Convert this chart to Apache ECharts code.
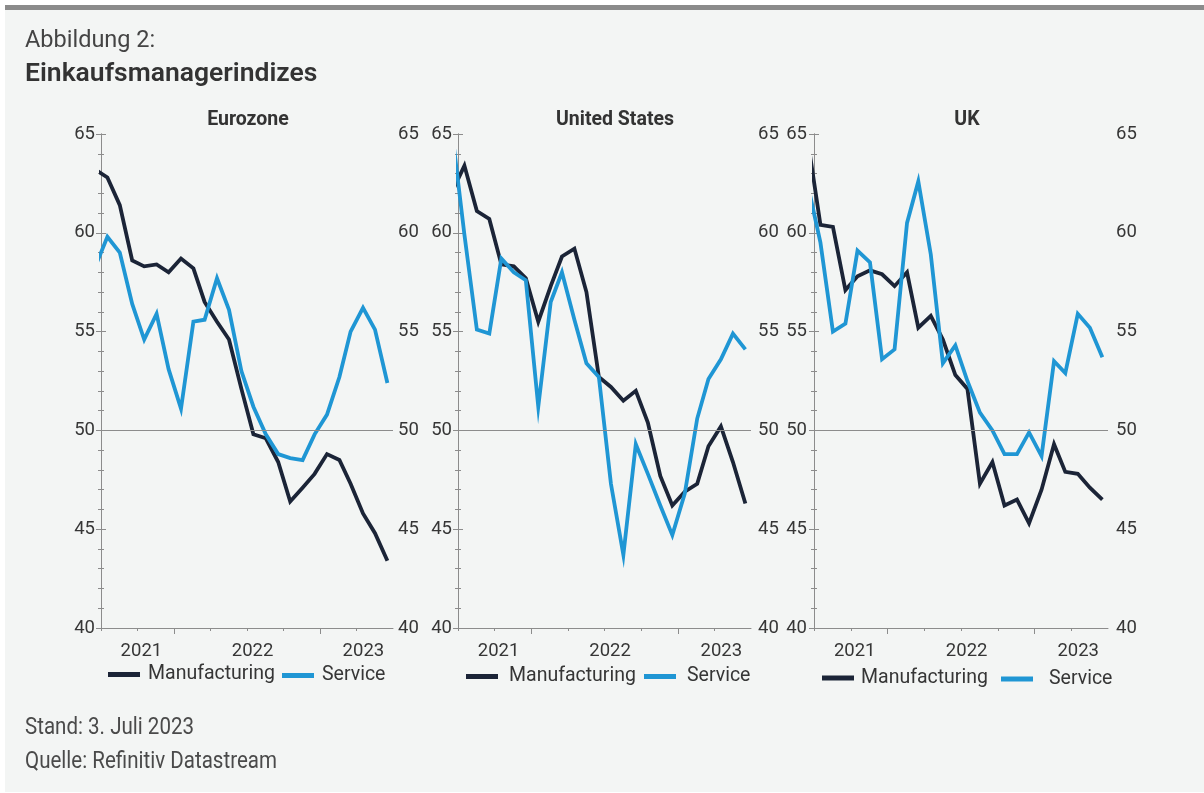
<!DOCTYPE html>
<html>
<head>
<meta charset="utf-8">
<title>Einkaufsmanagerindizes</title>
<script src="https://cdn.jsdelivr.net/npm/echarts@6/dist/echarts.min.js"></script>
<style>
  html, body { margin: 0; padding: 0; background: #ffffff; }
  #chart { width: 1204px; height: 793px; }
</style>
</head>
<body>
<div id="chart"></div>
<script>
// Monthly PMI readings, June 2021 – June 2023
const months = [
  '2021-06-01', '2021-07-01', '2021-08-01', '2021-09-01', '2021-10-01', '2021-11-01', '2021-12-01',
  '2022-01-01', '2022-02-01', '2022-03-01', '2022-04-01', '2022-05-01', '2022-06-01',
  '2022-07-01', '2022-08-01', '2022-09-01', '2022-10-01', '2022-11-01', '2022-12-01',
  '2023-01-01', '2023-02-01', '2023-03-01', '2023-04-01', '2023-05-01', '2023-06-01'
];

const euroManufacturing = [63.2, 62.8, 61.4, 58.6, 58.3, 58.4, 58.0, 58.7, 58.2, 56.5, 55.5, 54.6, 52.1,
  49.8, 49.6, 48.4, 46.4, 47.1, 47.8, 48.8, 48.5, 47.3, 45.8, 44.8, 43.4];
const euroService = [58.3, 59.8, 59.0, 56.4, 54.6, 55.9, 53.1, 51.1, 55.5, 55.6, 57.7, 56.1, 53.0,
  51.2, 49.8, 48.8, 48.6, 48.5, 49.8, 50.8, 52.7, 55.0, 56.2, 55.1, 52.4];

const usManufacturing = [62.1, 63.4, 61.1, 60.7, 58.4, 58.3, 57.7, 55.5, 57.3, 58.8, 59.2, 57.0, 52.7,
  52.2, 51.5, 52.0, 50.4, 47.7, 46.2, 46.9, 47.3, 49.2, 50.2, 48.4, 46.3];
const usService = [65.0, 59.9, 55.1, 54.9, 58.7, 58.0, 57.6, 51.2, 56.5, 58.0, 55.6, 53.4, 52.7,
  47.3, 43.7, 49.3, 47.8, 46.2, 44.7, 46.8, 50.6, 52.6, 53.6, 54.9, 54.1];

const ukManufacturing = [64.5, 60.4, 60.3, 57.1, 57.8, 58.1, 57.9, 57.3, 58.0, 55.2, 55.8, 54.6, 52.8,
  52.1, 47.3, 48.4, 46.2, 46.5, 45.3, 47.0, 49.3, 47.9, 47.8, 47.1, 46.5];
const ukService = [62.3, 59.5, 55.0, 55.4, 59.1, 58.5, 53.6, 54.1, 60.5, 62.6, 58.9, 53.4, 54.3,
  52.5, 50.9, 50.0, 48.8, 48.8, 49.9, 48.7, 53.5, 52.9, 55.9, 55.2, 53.7];

const panelTitles = ['Eurozone', 'United States', 'UK'];
const seriesNames = ['Manufacturing', 'Service'];

// Date axis window and year captions
const axisRange = ['2021-06-15', '2023-06-15'];
const yearLabelDates = ['2021-09-24', '2022-06-29', '2023-04-02'];
const yearLabels = ['2021', '2022', '2023'];

// Value axis
const yMin = 40, yMax = 65, yStep = 5, threshold = 50;

const headerLines = ['Abbildung 2:', 'Einkaufsmanagerindizes'];
const footerLines = ['Stand: 3. Juli 2023', 'Quelle: Refinitiv Datastream'];

// ---------------------------------------------------------------------------

const COLOR_MFG = '#1b2437';
const COLOR_SVC = '#1f96d4';
const AXIS_GRAY = '#8c8c8c';
const TEXT = '#363636';
const FONT = 'Roboto, "Noto Sans", sans-serif';

// dates are placed on a linear axis measured in days from the axis start
const DAY = 86400000;
const start = Date.UTC(...axisRange[0].split('-').map((n, i) => i === 1 ? n - 1 : +n));
function day(s) {
  const [y, m, d] = s.split('-').map(Number);
  return Math.round((Date.UTC(y, m - 1, d) - start) / DAY);
}

const x0 = day(axisRange[0]);
const x1 = day(axisRange[1]);
const quarter = (x1 - x0) / 8;
const shortTicks = [0, 1, 3, 4, 5, 7].map(k => x0 + k * quarter);
const longTicks = [2, 6].map(k => x0 + k * quarter);
const labelDays = yearLabelDates.map(day);

const panelData = [
  [euroManufacturing, euroService],
  [usManufacturing, usService],
  [ukManufacturing, ukService]
];

// Layout of the three small multiples
const layout = [
  { left: 101, width: 292, titleX: 248, lm: 6, rm: 5,
    legend: [{ x: 108, gap: 8, cy: 675.5 }, { x: 282, gap: 8, cy: 676.5 }] },
  { left: 458, width: 293, titleX: 615, lm: 6, rm: 7,
    legend: [{ x: 466, gap: 11, cy: 677.5 }, { x: 644, gap: 11, cy: 677.5 }] },
  { left: 814, width: 294, titleX: 967, lm: 7, rm: 8,
    legend: [{ x: 822, gap: 7, cy: 679 }, { x: 1001, gap: 16, cy: 680 }] }
];

const grids = [], xAxes = [], yAxes = [], series = [], legends = [];
const graphics = [
  { type: 'rect', shape: { x: 5, y: 10, width: 1199, height: 782 }, style: { fill: '#f3f5f4' }, z: -10, silent: true },
  { type: 'rect', shape: { x: 5, y: 5, width: 1199, height: 5 }, style: { fill: '#8b8b8b' }, z: -10, silent: true },
  { type: 'text', x: 25, y: 41.5, style: { text: headerLines[0], fill: '#444', font: 'normal 23.5px ' + FONT, textVerticalAlign: 'middle' } },
  { type: 'text', x: 25, y: 74, style: { text: headerLines[1], fill: '#333', font: '600 26.5px ' + FONT, textVerticalAlign: 'middle' } },
  { type: 'text', x: 25, y: 728, scaleX: 0.893, style: { text: footerLines[0], fill: '#4a4a4a', font: 'normal 23px ' + FONT, textVerticalAlign: 'middle' } },
  { type: 'text', x: 25, y: 762.5, scaleX: 0.893, style: { text: footerLines[1], fill: '#4a4a4a', font: 'normal 23px ' + FONT, textVerticalAlign: 'middle' } }
];

const axisLineStyle = { color: AXIS_GRAY, width: 1 };

layout.forEach((p, i) => {
  grids.push({ left: p.left, top: 134, width: p.width, height: 494, outerBoundsMode: 'none' });

  graphics.push({
    type: 'text', x: p.titleX, y: 120.5,
    style: { text: panelTitles[i], fill: '#333', font: 'bold 19.5px ' + FONT, textAlign: 'center', textVerticalAlign: 'middle' }
  });

  // date axis: quarter ticks and year captions
  xAxes.push({
    type: 'value', gridIndex: i, position: 'bottom', min: x0, max: x1,
    axisLine: { show: true, onZero: false, lineStyle: axisLineStyle },
    axisTick: { show: true, length: 3, customValues: shortTicks, lineStyle: axisLineStyle },
    axisLabel: {
      show: true, customValues: labelDays, margin: 14,
      fontSize: 18.5, fontFamily: FONT, color: TEXT,
      formatter: v => yearLabels[labelDays.indexOf(v)]
    },
    splitLine: { show: false }
  });
  // companion axis carrying the longer ticks
  xAxes.push({
    type: 'value', gridIndex: i, position: 'bottom', min: x0, max: x1,
    axisLine: { show: false, onZero: false },
    axisTick: { show: true, length: 6, customValues: longTicks, lineStyle: axisLineStyle },
    axisLabel: { show: false },
    splitLine: { show: false }
  });

  ['left', 'right'].forEach(pos => {
    yAxes.push({
      type: 'value', gridIndex: i, position: pos,
      min: yMin, max: yMax, interval: yStep,
      axisLine: { show: true, lineStyle: axisLineStyle },
      axisTick: { show: true, length: 5, lineStyle: axisLineStyle },
      minorTick: { show: true, splitNumber: 5, length: 3, lineStyle: axisLineStyle },
      splitLine: { show: false },
      minorSplitLine: { show: false },
      axisLabel: { fontSize: 18.5, fontFamily: FONT, color: TEXT, margin: pos === 'left' ? p.lm : p.rm }
    });
  });

  const [mfg, svc] = panelData[i];
  series.push({
    name: seriesNames[0], type: 'line', xAxisIndex: 2 * i, yAxisIndex: 2 * i,
    data: months.map((d, k) => [day(d), mfg[k]]),
    showSymbol: false, symbol: 'none', clip: true, color: COLOR_MFG,
    lineStyle: { width: 3.8, color: COLOR_MFG, join: 'miter' },
    markLine: {
      silent: true, symbol: ['none', 'none'], label: { show: false },
      lineStyle: { color: AXIS_GRAY, width: 1, type: 'solid' },
      emphasis: { disabled: true },
      data: [{ yAxis: threshold }]
    },
    z: 3
  });
  series.push({
    name: seriesNames[1], type: 'line', xAxisIndex: 2 * i, yAxisIndex: 2 * i,
    data: months.map((d, k) => [day(d), svc[k]]),
    showSymbol: false, symbol: 'none', clip: true, color: COLOR_SVC,
    lineStyle: { width: 3.8, color: COLOR_SVC, join: 'miter' },
    z: 4
  });

  p.legend.forEach((it, j) => {
    legends.push({
      data: [seriesNames[j]], left: it.x, top: it.cy - 11, padding: 0,
      icon: 'rect', itemWidth: 32, itemHeight: 5,
      selectedMode: false,
      textStyle: { fontSize: 19.5, fontFamily: FONT, color: TEXT, padding: [0, 0, 0, it.gap - 5] }
    });
  });
});

const chart = echarts.init(document.getElementById('chart'), null, { renderer: 'canvas' });
chart.setOption({
  backgroundColor: '#ffffff',
  animation: false,
  textStyle: { fontFamily: FONT },
  grid: grids,
  xAxis: xAxes,
  yAxis: yAxes,
  series: series,
  legend: legends,
  graphic: graphics
});
</script>
</body>
</html>
